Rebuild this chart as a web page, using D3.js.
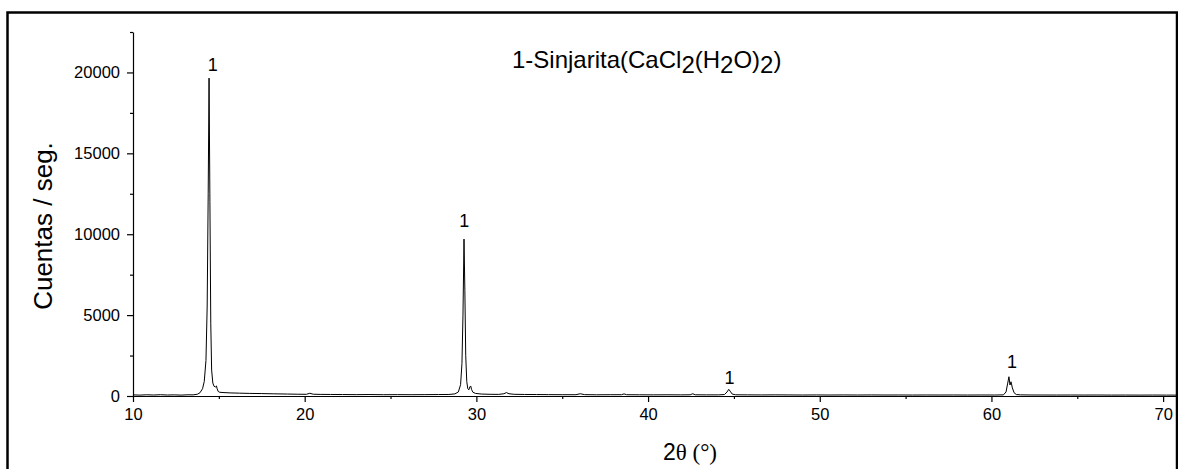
<!DOCTYPE html>
<meta charset="utf-8">
<style>
  body { margin: 0; background: #fff; }
  .axis text { font-family: "Liberation Sans", Arial, sans-serif; font-size: 16.5px; fill: #000; }
  .axis path, .axis line { stroke: #000; stroke-width: 1.2; }
  .line { fill: none; stroke: #000; stroke-width: 1; }
</style>
<body>
<svg width="1178" height="469"></svg>

<script src="https://cdn.jsdelivr.net/npm/d3@7/dist/d3.min.js"></script>
<script>

// diffractogram: [2theta (deg), counts / s]
var scan = [
  [10.0, 70], [10.4, 55], [10.8, 75], [11.2, 60], [11.6, 80], [12.0, 60], [12.4, 70],
  [12.8, 55], [13.2, 75], [13.5, 70], [13.75, 110], [13.9, 200], [14.05, 450],
  [14.15, 900], [14.25, 2200], [14.32, 5500], [14.38, 12500], [14.43, 19650],
  [14.48, 12000], [14.53, 4500], [14.58, 1600], [14.65, 800], [14.72, 600],
  [14.8, 560], [14.86, 620], [14.9, 450], [14.96, 280], [15.05, 230], [15.3, 210],
  [15.7, 190], [16.2, 175], [16.8, 160], [17.5, 150], [18.2, 135], [19.0, 120],
  [19.6, 110], [20.1, 105], [20.3, 170], [20.5, 110], [20.9, 100], [21.5, 95],
  [22.2, 90], [23.0, 85], [23.8, 90], [24.6, 80], [25.4, 85], [26.2, 80], [27.0, 85],
  [27.8, 90], [28.4, 95], [28.75, 130], [28.95, 250], [29.08, 700], [29.16, 2000],
  [29.22, 5000], [29.28, 9700], [29.33, 6500], [29.38, 2500], [29.44, 900],
  [29.5, 450], [29.56, 380], [29.62, 560], [29.67, 620], [29.72, 400], [29.8, 230],
  [29.95, 160], [30.3, 120], [30.8, 105], [31.3, 100], [31.6, 140], [31.75, 210],
  [31.9, 140], [32.2, 105], [32.8, 95], [33.5, 90], [34.2, 85], [35.0, 80],
  [35.8, 80], [36.05, 140], [36.3, 85], [37.0, 75], [37.8, 80], [38.45, 80],
  [38.6, 130], [38.75, 80], [39.5, 75], [40.3, 70], [41.1, 75], [41.9, 70],
  [42.45, 75], [42.6, 140], [42.75, 75], [43.4, 70], [44.1, 70], [44.45, 90],
  [44.6, 250], [44.7, 410], [44.78, 300], [44.9, 120], [45.1, 75], [45.8, 70],
  [46.6, 65], [47.4, 70], [48.2, 65], [49.0, 60], [49.8, 65], [50.6, 60], [51.4, 65],
  [52.2, 60], [53.0, 65], [53.8, 60], [54.6, 62], [55.4, 58], [56.2, 62], [57.0, 60],
  [57.8, 62], [58.6, 58], [59.4, 62], [60.2, 60], [60.7, 70], [60.85, 250],
  [60.95, 800], [61.02, 1190], [61.08, 680], [61.14, 880], [61.22, 500],
  [61.32, 200], [61.45, 90], [61.7, 70], [62.3, 62], [63.0, 60], [63.8, 58],
  [64.6, 60], [65.4, 58], [66.2, 60], [67.0, 56], [67.8, 58], [68.6, 55],
  [69.4, 58], [70.2, 55], [70.75, 55]
];

// phase markers ("1") placed above the peaks
var peakTheta  = [14.65, 29.3, 44.75, 61.2];
var peakCounts = [20090, 10445, 742, 1730];
var peakText   = ["1", "1", "1", "1"];

var xMajor = [10, 20, 30, 40, 50, 60, 70];
var xMinor = [15, 25, 35, 45, 55, 65];
var yMajor = [0, 5000, 10000, 15000, 20000];
var yMinor = [2500, 7500, 12500, 17500, 22500];

var svg = d3.select("svg");

// outer frame
svg.append("rect")
    .attr("x", 7.5).attr("y", 12.5)
    .attr("width", 1169.5).attr("height", 470)
    .attr("fill", "none").attr("stroke", "#000").attr("stroke-width", 2.5);

var x = d3.scaleLinear().domain([10, 70.75]).range([133, 1176]);
var y = d3.scaleLinear().domain([0, 22500]).range([396, 32]);

// x axis
svg.append("g")
    .attr("class", "axis")
    .attr("transform", "translate(0,396)")
    .call(d3.axisBottom(x).tickValues(xMajor).tickSize(6).tickSizeOuter(0).tickPadding(6));

svg.append("g")
    .attr("class", "axis")
    .attr("transform", "translate(0,396)")
    .call(d3.axisBottom(x).tickValues(xMinor).tickSize(3).tickSizeOuter(0).tickFormat(""))
    .select(".domain").remove();

// y axis
svg.append("g")
    .attr("class", "axis")
    .attr("transform", "translate(133,0)")
    .call(d3.axisLeft(y).tickValues(yMajor).tickSize(6).tickSizeOuter(0).tickPadding(7)
        .tickFormat(d3.format("d")));

svg.append("g")
    .attr("class", "axis")
    .attr("transform", "translate(133,0)")
    .call(d3.axisLeft(y).tickValues(yMinor).tickSize(3).tickSizeOuter(0).tickFormat(""))
    .select(".domain").remove();

// the pattern
var valueline = d3.line()
    .x(function(d) { return x(d[0]); })
    .y(function(d) { return y(d[1]); });

svg.append("path")
    .datum(scan)
    .attr("class", "line")
    .attr("d", valueline);

// peak labels
svg.append("g").selectAll("text")
    .data(peakText)
    .join("text")
    .attr("x", function(d, i) { return x(peakTheta[i]); })
    .attr("y", function(d, i) { return y(peakCounts[i]); })
    .attr("text-anchor", "middle")
    .style("font-family", "Liberation Sans, Arial, sans-serif")
    .style("font-size", "18px")
    .text(function(d) { return d; });

// title with lowered "2"s
var title = svg.append("text")
    .attr("x", 512).attr("y", 68)
    .style("font-family", "Liberation Sans, Arial, sans-serif")
    .style("font-size", "24px");
var parts = [["1-Sinjarita(CaCl", 0], ["2", 5], ["(H", -5], ["2", 5], ["O)", -5], ["2", 5], [")", -5]];
parts.forEach(function(p) {
    title.append("tspan").attr("dy", p[1]).text(p[0]);
});

// axis titles
svg.append("text")
    .attr("transform", "translate(52,226) rotate(-90)")
    .attr("text-anchor", "middle")
    .style("font-family", "Liberation Sans, Arial, sans-serif")
    .style("font-size", "26px")
    .text("Cuentas / seg.");

var xTitle = svg.append("text")
    .attr("x", 690).attr("y", 460)
    .attr("text-anchor", "middle")
    .style("font-size", "23px");
xTitle.append("tspan").style("font-family", "Liberation Sans, Arial, sans-serif").text("2");
xTitle.append("tspan").style("font-family", "Liberation Serif, Times New Roman, serif").text("\u03b8 (\u00b0)");

</script>
</body>
